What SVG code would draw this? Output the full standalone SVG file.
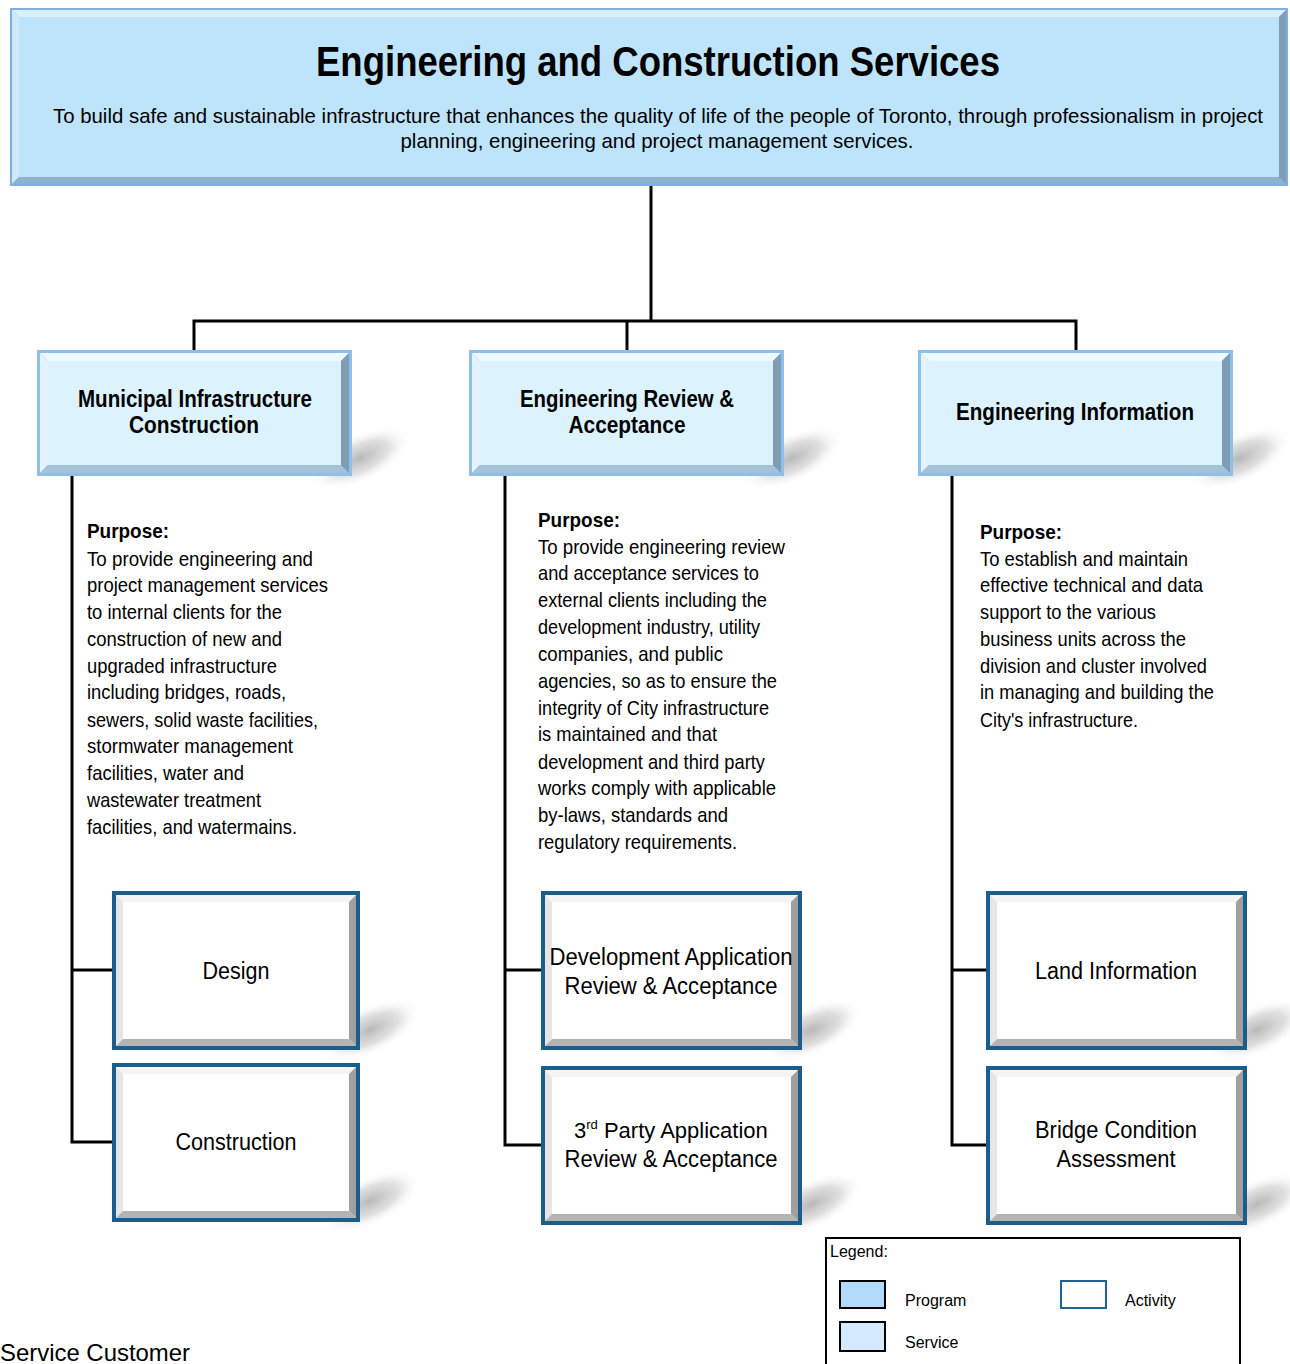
<svg xmlns="http://www.w3.org/2000/svg" xmlns:xlink="http://www.w3.org/1999/xlink" width="1290" height="1364" viewBox="0 0 1290 1364">
<style>
.nar{font-family:"Liberation Sans Narrow","Liberation Sans",Arial,sans-serif;fill:#000}
.reg{font-family:"Liberation Sans",Arial,sans-serif;fill:#000}
.b{font-weight:bold}
.conn{stroke:#000;fill:none;stroke-width:3}
.shadow{fill:url(#shg)}
</style>
<defs>
<radialGradient id="shg" cx="0.5" cy="0.5" r="0.5">
<stop offset="0" stop-color="#9a9a9a" stop-opacity="0.7"/>
<stop offset="0.55" stop-color="#b0b0b0" stop-opacity="0.4"/>
<stop offset="1" stop-color="#ffffff" stop-opacity="0"/>
</radialGradient>
<g id="progBox">
<rect x="0" y="0" width="315" height="126" fill="#8cbfea"/>
<polygon points="3,3 312,3 304,11 11,11" fill="#eefaff"/>
<polygon points="3,3 11,11 11,115 3,123" fill="#e2f4fd"/>
<polygon points="3,123 11,115 304,115 312,123" fill="#a4c3d8"/>
<polygon points="312,3 312,123 304,115 304,11" fill="#7f9cb2"/>
<rect x="11" y="11" width="293" height="104" fill="#dcf3fe"/>
</g>
<g id="actA">
<rect x="0" y="0" width="248" height="159" fill="#1b5e8c"/>
<rect x="4" y="4" width="240" height="151" fill="#fff"/>
<polygon points="4,4 244,4 237,11 11,11" fill="#f4f4f4"/>
<polygon points="4,4 11,11 11,148 4,155" fill="#e6e6e6"/>
<polygon points="4,155 11,148 237,148 244,155" fill="#b4b4b4"/>
<polygon points="244,4 244,155 237,148 237,11" fill="#a0a0a0"/>
<rect x="11" y="11" width="226" height="137" fill="#fff"/>
</g>
<g id="actB">
<rect x="0" y="0" width="261" height="159" fill="#1b5e8c"/>
<rect x="4" y="4" width="253" height="151" fill="#fff"/>
<polygon points="4,4 257,4 250,11 11,11" fill="#f4f4f4"/>
<polygon points="4,4 11,11 11,148 4,155" fill="#e6e6e6"/>
<polygon points="4,155 11,148 250,148 257,155" fill="#b4b4b4"/>
<polygon points="257,4 257,155 250,148 250,11" fill="#a0a0a0"/>
<rect x="11" y="11" width="239" height="137" fill="#fff"/>
</g>
<ellipse id="sh" class="shadow" cx="0" cy="0" rx="55" ry="24" transform="rotate(-25)"/>
</defs>
<rect width="1290" height="1364" fill="#fff"/>

<g id="shadows">
<use xlink:href="#sh" transform="translate(360,458)"/>
<use xlink:href="#sh" transform="translate(792,458)"/>
<use xlink:href="#sh" transform="translate(1240,458)"/>
<use xlink:href="#sh" transform="translate(370,1030)"/>
<use xlink:href="#sh" transform="translate(370,1201)"/>
<use xlink:href="#sh" transform="translate(812,1030)"/>
<use xlink:href="#sh" transform="translate(812,1204)"/>
<use xlink:href="#sh" transform="translate(1257,1030)"/>
<use xlink:href="#sh" transform="translate(1257,1204)"/>
</g>

<g id="connectors">
<polyline class="conn" points="651,186 651,321"/>
<polyline class="conn" points="194,350 194,321 1076,321 1076,350"/>
<polyline class="conn" points="627,321 627,350"/>
<polyline class="conn" points="72,476 72,1142 112,1142"/>
<polyline class="conn" points="72,970 112,970"/>
<polyline class="conn" points="505,476 505,1145 541,1145"/>
<polyline class="conn" points="505,970 541,970"/>
<polyline class="conn" points="952,476 952,1145 986,1145"/>
<polyline class="conn" points="952,970 986,970"/>
</g>

<g id="top">
<rect x="10" y="8" width="1278" height="178" fill="#7fb0e2"/>
<polygon points="12,10 1286,10 1279,17 19,17" fill="#d9f0fd"/>
<polygon points="12,10 19,17 19,177 12,184" fill="#cfeafc"/>
<polygon points="12,184 19,177 1279,177 1286,184" fill="#8fb2cf"/>
<polygon points="1286,10 1286,184 1279,177 1279,17" fill="#7e9db6"/>
<rect x="19" y="17" width="1260" height="160" fill="#bde4fb"/>
<text class="nar b" x="658" y="76" font-size="42" text-anchor="middle" textLength="684" lengthAdjust="spacingAndGlyphs">Engineering and Construction Services</text>
<text class="nar" x="658" y="123" font-size="21" text-anchor="middle" textLength="1210" lengthAdjust="spacingAndGlyphs">To build safe and sustainable infrastructure that enhances the quality of life of the people of Toronto, through professionalism in project</text>
<text class="nar" x="657" y="148" font-size="21" text-anchor="middle" textLength="513" lengthAdjust="spacingAndGlyphs">planning, engineering and project management services.</text>
</g>

<g id="prog-mic">
<use xlink:href="#progBox" x="37" y="350"/>
<text class="nar b" x="195" y="407" font-size="23" text-anchor="middle" textLength="234" lengthAdjust="spacingAndGlyphs">Municipal Infrastructure</text>
<text class="nar b" x="194" y="433" font-size="23" text-anchor="middle" textLength="130" lengthAdjust="spacingAndGlyphs">Construction</text>
</g>
<g id="prog-era">
<use xlink:href="#progBox" x="469" y="350"/>
<text class="nar b" x="627" y="407" font-size="23" text-anchor="middle" textLength="214" lengthAdjust="spacingAndGlyphs">Engineering Review &amp;</text>
<text class="nar b" x="627" y="433" font-size="23" text-anchor="middle" textLength="117" lengthAdjust="spacingAndGlyphs">Acceptance</text>
</g>
<g id="prog-ei">
<use xlink:href="#progBox" x="918" y="350"/>
<text class="nar b" x="1075" y="420" font-size="23" text-anchor="middle" textLength="238" lengthAdjust="spacingAndGlyphs">Engineering Information</text>
</g>

<g id="purpose-mic" font-size="21">
<text class="nar b" x="87" y="538" textLength="82" lengthAdjust="spacingAndGlyphs">Purpose:</text>
<text class="nar" x="87" y="566" textLength="226" lengthAdjust="spacingAndGlyphs">To provide engineering and</text>
<text class="nar" x="87" y="592" textLength="241" lengthAdjust="spacingAndGlyphs">project management services</text>
<text class="nar" x="87" y="619" textLength="195" lengthAdjust="spacingAndGlyphs">to internal clients for the</text>
<text class="nar" x="87" y="646" textLength="195" lengthAdjust="spacingAndGlyphs">construction of new and</text>
<text class="nar" x="87" y="673" textLength="190" lengthAdjust="spacingAndGlyphs">upgraded infrastructure</text>
<text class="nar" x="87" y="699" textLength="199" lengthAdjust="spacingAndGlyphs">including bridges, roads,</text>
<text class="nar" x="87" y="727" textLength="231" lengthAdjust="spacingAndGlyphs">sewers, solid waste facilities,</text>
<text class="nar" x="87" y="753" textLength="206" lengthAdjust="spacingAndGlyphs">stormwater management</text>
<text class="nar" x="87" y="780" textLength="157" lengthAdjust="spacingAndGlyphs">facilities, water and</text>
<text class="nar" x="87" y="807" textLength="174" lengthAdjust="spacingAndGlyphs">wastewater treatment</text>
<text class="nar" x="87" y="834" textLength="210" lengthAdjust="spacingAndGlyphs">facilities, and watermains.</text>
</g>

<g id="purpose-era" font-size="21">
<text class="nar b" x="538" y="527" textLength="82" lengthAdjust="spacingAndGlyphs">Purpose:</text>
<text class="nar" x="538" y="554" textLength="247" lengthAdjust="spacingAndGlyphs">To provide engineering review</text>
<text class="nar" x="538" y="580" textLength="221" lengthAdjust="spacingAndGlyphs">and acceptance services to</text>
<text class="nar" x="538" y="607" textLength="229" lengthAdjust="spacingAndGlyphs">external clients including the</text>
<text class="nar" x="538" y="634" textLength="222" lengthAdjust="spacingAndGlyphs">development industry, utility</text>
<text class="nar" x="538" y="661" textLength="185" lengthAdjust="spacingAndGlyphs">companies, and public</text>
<text class="nar" x="538" y="688" textLength="239" lengthAdjust="spacingAndGlyphs">agencies, so as to ensure the</text>
<text class="nar" x="538" y="715" textLength="231" lengthAdjust="spacingAndGlyphs">integrity of City infrastructure</text>
<text class="nar" x="538" y="741" textLength="179" lengthAdjust="spacingAndGlyphs">is maintained and that</text>
<text class="nar" x="538" y="769" textLength="227" lengthAdjust="spacingAndGlyphs">development and third party</text>
<text class="nar" x="538" y="795" textLength="238" lengthAdjust="spacingAndGlyphs">works comply with applicable</text>
<text class="nar" x="538" y="822" textLength="190" lengthAdjust="spacingAndGlyphs">by-laws, standards and</text>
<text class="nar" x="538" y="849" textLength="199" lengthAdjust="spacingAndGlyphs">regulatory requirements.</text>
</g>

<g id="purpose-ei" font-size="21">
<text class="nar b" x="980" y="539" textLength="82" lengthAdjust="spacingAndGlyphs">Purpose:</text>
<text class="nar" x="980" y="566" textLength="208" lengthAdjust="spacingAndGlyphs">To establish and maintain</text>
<text class="nar" x="980" y="592" textLength="223" lengthAdjust="spacingAndGlyphs">effective technical and data</text>
<text class="nar" x="980" y="619" textLength="176" lengthAdjust="spacingAndGlyphs">support to the various</text>
<text class="nar" x="980" y="646" textLength="206" lengthAdjust="spacingAndGlyphs">business units across the</text>
<text class="nar" x="980" y="673" textLength="227" lengthAdjust="spacingAndGlyphs">division and cluster involved</text>
<text class="nar" x="980" y="699" textLength="234" lengthAdjust="spacingAndGlyphs">in managing and building the</text>
<text class="nar" x="980" y="727" textLength="158" lengthAdjust="spacingAndGlyphs">City's infrastructure.</text>
</g>

<g id="act-design">
<use xlink:href="#actA" x="112" y="891"/>
<text class="reg" x="236" y="979" font-size="23" text-anchor="middle" textLength="67" lengthAdjust="spacingAndGlyphs">Design</text>
</g>
<g id="act-construction">
<use xlink:href="#actA" x="112" y="1063"/>
<text class="reg" x="236" y="1150" font-size="23" text-anchor="middle" textLength="121" lengthAdjust="spacingAndGlyphs">Construction</text>
</g>
<g id="act-devapp">
<use xlink:href="#actB" x="541" y="891"/>
<text class="reg" x="671" y="965" font-size="23" text-anchor="middle" textLength="243" lengthAdjust="spacingAndGlyphs">Development Application</text>
<text class="reg" x="671" y="994" font-size="23" text-anchor="middle" textLength="213" lengthAdjust="spacingAndGlyphs">Review &amp; Acceptance</text>
</g>
<g id="act-3rdparty">
<use xlink:href="#actB" x="541" y="1066"/>
<text class="reg" x="574" y="1138" font-size="22">3<tspan font-size="13" dy="-9">rd</tspan><tspan dy="9"> Party Application</tspan></text>
<text class="reg" x="671" y="1167" font-size="23" text-anchor="middle" textLength="213" lengthAdjust="spacingAndGlyphs">Review &amp; Acceptance</text>
</g>
<g id="act-land">
<use xlink:href="#actB" x="986" y="891"/>
<text class="reg" x="1116" y="979" font-size="23" text-anchor="middle" textLength="162" lengthAdjust="spacingAndGlyphs">Land Information</text>
</g>
<g id="act-bridge">
<use xlink:href="#actB" x="986" y="1066"/>
<text class="reg" x="1116" y="1138" font-size="23" text-anchor="middle" textLength="162" lengthAdjust="spacingAndGlyphs">Bridge Condition</text>
<text class="reg" x="1116" y="1167" font-size="23" text-anchor="middle" textLength="119" lengthAdjust="spacingAndGlyphs">Assessment</text>
</g>

<g id="legend">
<rect x="826" y="1238" width="414" height="130" fill="#fff" stroke="#000" stroke-width="2"/>
<text class="nar" x="830" y="1257" font-size="16">Legend:</text>
<rect x="840" y="1281" width="45" height="27" fill="#b4dafb" stroke="#000" stroke-width="2"/>
<text class="nar" x="905" y="1306" font-size="16">Program</text>
<rect x="840" y="1322" width="45" height="29" fill="#d6eafe" stroke="#000" stroke-width="2"/>
<text class="nar" x="905" y="1348" font-size="16">Service</text>
<rect x="1061" y="1281" width="45" height="27" fill="#fff" stroke="#1f6391" stroke-width="2"/>
<text class="nar" x="1125" y="1306" font-size="16">Activity</text>
</g>

<g id="footer">
<text class="reg" x="0" y="1361" font-size="24" textLength="190" lengthAdjust="spacingAndGlyphs">Service  Customer</text>
</g>
</svg>
